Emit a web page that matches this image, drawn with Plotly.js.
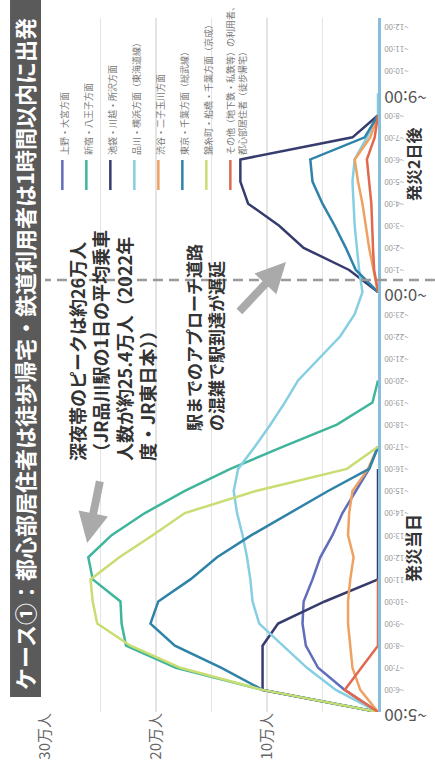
<!DOCTYPE html>
<html><head><meta charset="utf-8">
<script src="https://cdn.plot.ly/plotly-3.0.1.min.js"></script>
<style>
html,body{margin:0;padding:0;background:#fff;overflow:hidden;width:435px;height:775px;}
#wrap{position:absolute;left:0;top:0;width:775px;height:435px;transform-origin:0 0;transform:translate(0px,775px) rotate(-90deg);}
#chart{width:775px;height:435px;}
</style></head><body>
<div id="wrap"><div id="chart"></div></div>
<script>
// hours since 0:00 of the disaster day (24 = 0:00 next day)
const hours = [5,6,7,8,9,10,11,12,13,14,15,16,17,18,19,20,21,22,23,24,25,26,27,28,29,30,31,32,33];

const seriesNames = [
  '上野・大宮方面',
  '新宿・八王子方面',
  '池袋・川越・所沢方面',
  '品川・横浜方面（東海道線）',
  '渋谷・二子玉川方面',
  '東京・千葉方面（総武線）',
  '錦糸町・船橋・千葉方面（京成）',
  'その他（地下鉄・私鉄等）の利用者、<br>都心部居住者（徒歩帰宅）'
];
const seriesColors = ['#5f6dbb','#3fb59c','#363d6e','#86cfe3','#eea160','#2f82a8','#c8dd72','#e0694e'];

// values in 万人
const s1 = [0,3.0,5.4,6.5,6.8,6.7,5.9,5.2,4.1,3.2,2.0,0.8,0,null,null,null,null,null,null,null,null,null,null,null,null,null,null,null,null];
const s2 = [0,10.4,18.2,22.7,23.1,23.2,25.7,26.1,24.0,21.0,17.4,13.3,8.6,3.7,0.5,0,null,null,null,null,null,null,null,null,null,null,null,null,null];
const s3 = [0,10.4,10.4,10.4,9.0,4.8,0,0,0,0,0,0,null,null,null,null,null,null,null,0,2.6,6.7,8.9,11.7,12.4,12.4,2.3,0,null];
const s4 = [0,3.8,6.4,8.6,10.7,11.3,11.5,11.8,12.2,12.7,13.0,12.6,11.1,9.7,8.4,7.2,5.3,3.4,2.1,1.4,1.7,1.9,2.1,2.2,2.3,2.1,1.0,0,0];
const s5 = [0,1.6,2.3,2.5,2.7,2.7,2.5,2.2,2.7,2.6,2.3,0.9,0,null,null,null,null,null,null,0,0.4,0.8,1.1,1.4,1.8,2.1,0.7,0,null];
const s6 = [0,10.4,14.1,18.3,20.5,19.8,16.9,14.5,11.4,7.9,4.5,0.8,0,null,null,null,null,null,null,0,2.0,2.9,3.9,5.0,5.9,6.1,1.2,0,null];
const s7 = [0,10.4,17.8,22.3,25.3,25.7,25.9,23.3,20.3,17.4,11.0,2.8,0,null,null,null,null,null,null,null,null,null,null,null,null,null,null,null,null];
const s8 = [0,3.0,1.5,0,0,0,0,null,null,null,null,null,null,null,null,null,null,null,null,0,0.35,0.45,0.5,0.6,0.8,1.0,0.3,0,null];
const allSeries = [s1,s2,s3,s4,s5,s6,s7,s8];

const tickHours = [5,6,7,8,9,10,11,12,13,14,15,16,17,18,19,20,21,22,23,24,25,26,27,28,29,30,31,32,33,34,35,36];
const tickLabels = ['~5:00','~6:00','~7:00','~8:00','~9:00','~10:00','~11:00','~12:00','~13:00','~14:00','~15:00','~16:00','~17:00','~18:00','~19:00','~20:00','~21:00','~22:00','~23:00','~0:00','~1:00','~2:00','~3:00','~4:00','~5:00','~6:00','~7:00','~8:00','~9:00','~10:00','~11:00','~12:00'];
const majorTickHours = [5,24,33];

const yTickVals = [0,5,10,15,20,25,30];
const yTickLabels = ['','','10万人','','20万人','','30万人'];

const FONT = 'Noto Sans CJK JP, Noto Sans, sans-serif';

const tickText = tickHours.map((h,i)=> majorTickHours.includes(h)
  ? '<span style="font-size:17px;color:#555">'+tickLabels[i]+'</span>'
  : tickLabels[i]);

const traces = allSeries.map((s,i)=>({
  x: hours, y: s, type:'scatter', mode:'lines', name: seriesNames[i],
  legendgroup: 'g'+i,
  line:{color: seriesColors[i], width:2.5}, connectgaps:false, hoverinfo:'skip'
}));

const layout = {
  width:775, height:435,
  margin:{l:63, r:18, t:45, b:57, autoexpand:false},
  paper_bgcolor:'#ffffff', plot_bgcolor:'#ffffff',
  font:{family:FONT, color:'#555'},
  title:{text:'ケース①：都心部居住者は徒歩帰宅・鉄道利用者は1時間以内に出発',
    font:{family:FONT, size:22, color:'#ffffff', weight:'bold'},
    xref:'container', x:85/775, xanchor:'left', yref:'container', y:1-26/435, yanchor:'middle'},
  xaxis:{range:[5,36.4], tickvals:tickHours, ticktext:tickText, tickangle:-90, automargin:false,
    tickfont:{family:FONT, size:8, color:'#999'}, ticks:'', showgrid:false, zeroline:false,
    showline:true, linecolor:'#88bddb', linewidth:3, layer:'below traces', fixedrange:true},
  yaxis:{range:[0,30], tickvals:yTickVals, ticktext:yTickLabels, ticks:'', automargin:false,
    tickfont:{family:FONT, size:15, color:'#666'}, showgrid:true, gridcolor:'#e4e4e4', gridwidth:1.5,
    zeroline:false, showline:false, fixedrange:true},
  showlegend:true,
  legend:{x:0.745, y:0.985, xanchor:'left', yanchor:'top', bgcolor:'rgba(0,0,0,0)',
    font:{family:FONT, size:9, color:'#777'}, traceorder:'grouped', tracegroupgap:5, valign:'top', itemwidth:30},
  shapes:[
    {type:'rect', xref:'paper', yref:'paper', x0:0.0216, x1:1.05, y0:1.012, y1:1.105,
      fillcolor:'#5a5a5a', line:{width:0}, layer:'below'},
    {type:'line', xref:'x', yref:'paper', x0:24.55, x1:24.55, y0:-0.171, y1:1.0,
      line:{color:'#9a9a9a', width:2.5, dash:'10px,6px'}}
  ],
  annotations:[
    {xref:'paper', yref:'paper', x:0.359, y:0.799, xanchor:'left', yanchor:'middle', align:'left', showarrow:false,
      text:'深夜帯のピークは約26万人<br>（JR品川駅の1日の平均乗車<br>人数が約25.4万人（2022年<br>度・JR東日本））',
      font:{family:FONT, size:18, color:'#333', weight:'bold'}},
    {xref:'paper', yref:'paper', x:0.402, y:0.5225, xanchor:'left', yanchor:'middle', align:'left', showarrow:false,
      text:'駅までのアプローチ道路<br>の混雑で駅到達が遅延',
      font:{family:FONT, size:17, color:'#333', weight:'bold'}},
    {xref:'x', yref:'y', x:12.65, y:26.2, ax:63, ay:13, text:'', showarrow:true,
      arrowhead:2, arrowsize:0.75, arrowwidth:8, arrowcolor:'#aaaaaa', standoff:0},
    {xref:'x', yref:'y', x:25.36, y:8.29, ax:-51, ay:-48, text:'', showarrow:true,
      arrowhead:2, arrowsize:0.75, arrowwidth:8, arrowcolor:'#aaaaaa', standoff:0},
    {xref:'x', yref:'paper', x:12.4, y:-0.147, showarrow:false, text:'発災当日',
      font:{family:FONT, size:17, color:'#333', weight:'bold'}},
    {xref:'x', yref:'paper', x:29.75, y:-0.147, showarrow:false, text:'発災2日後',
      font:{family:FONT, size:16, color:'#333', weight:'bold'}}
  ]
};

Plotly.newPlot('chart', traces, layout, {displayModeBar:false, staticPlot:true});
</script>
</body></html>
